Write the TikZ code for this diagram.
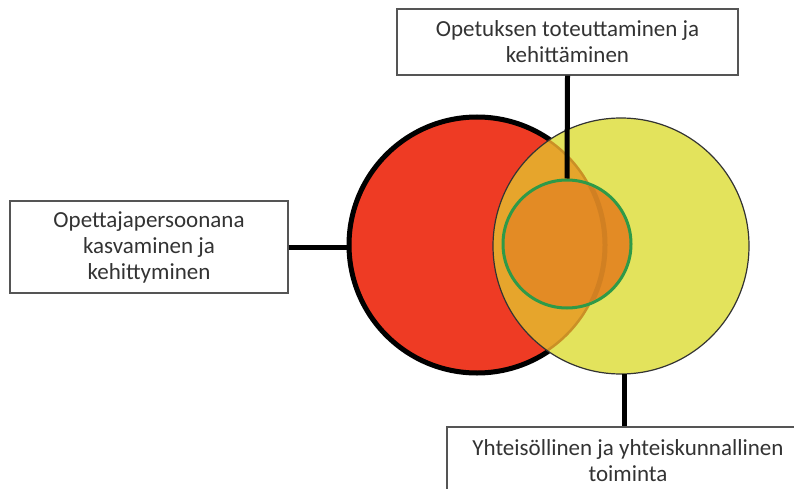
\documentclass[tikz,border=0pt]{standalone}
\usepackage{fontspec}
\setmainfont{Carlito}
\definecolor{redfill}{HTML}{EE3B24}
\definecolor{yellowfill}{HTML}{E3E35C}
\definecolor{overlapfill}{HTML}{E6A52C}
\definecolor{corefill}{HTML}{E38B25}
\definecolor{coregreen}{HTML}{2E9A48}
\definecolor{boxedge}{HTML}{555555}
\definecolor{textgray}{HTML}{333333}
\tikzset{
  labelbox/.style={draw=boxedge, line width=1.3pt, fill=white, align=center,
    text=textgray, font=\fontsize{23}{26}\selectfont, inner sep=0pt},
  ring/.style={circle, inner sep=0pt},
  leader/.style={line width=5pt, black},
}
\begin{document}
\begin{tikzpicture}[x=1pt, y=-1pt]
\useasboundingbox (0,0) rectangle (794,489);
\clip (0,0) rectangle (794,489);
\fill[white] (0,0) rectangle (794,489);

% the two overlapping circles
\node[ring, minimum size=256pt, fill=redfill, draw=black, line width=5pt] (red) at (477,245) {};
\node[ring, minimum size=256pt, fill=yellowfill] (yellow) at (621,246) {};
\begin{scope}
  \clip (477,245) circle (128pt);
  \fill[overlapfill] (621,246) circle (128pt);
  \draw[black, line width=5pt, opacity=0.12] (477,245) circle (128pt);
\end{scope}
\draw[black!80, line width=1.2pt] (621,246) circle (128pt);

% label boxes
\node[labelbox, minimum width=341pt, minimum height=66pt] (top) at (567.5,42)
  {Opetuksen toteuttaminen ja\\kehittäminen};
\node[labelbox, minimum width=278pt, minimum height=92pt] (left) at (149,247)
  {Opettajapersoonana\\kasvaminen ja\\kehittyminen};
\node[labelbox, minimum width=362pt, minimum height=68pt] (bottom) at (628,461)
  {Yhteisöllinen ja yhteiskunnallinen\\toiminta};

% core circle, with the red rim faintly showing through
\node[ring, minimum size=128pt, fill=corefill, draw=coregreen, line width=3pt] (core) at (567,244) {};
\begin{scope}
  \clip (567,244) circle (62pt);
  \draw[black, line width=5pt, opacity=0.08] (477,245) circle (128pt);
\end{scope}

% connectors
\draw[leader] (top.south) -- (core.north);
\draw[leader] (left.east) -- (left.east -| red.west);
\draw[leader] ([xshift=3pt]yellow.south) -- ([xshift=3pt]yellow.south |- bottom.north);
\end{tikzpicture}
\end{document}
